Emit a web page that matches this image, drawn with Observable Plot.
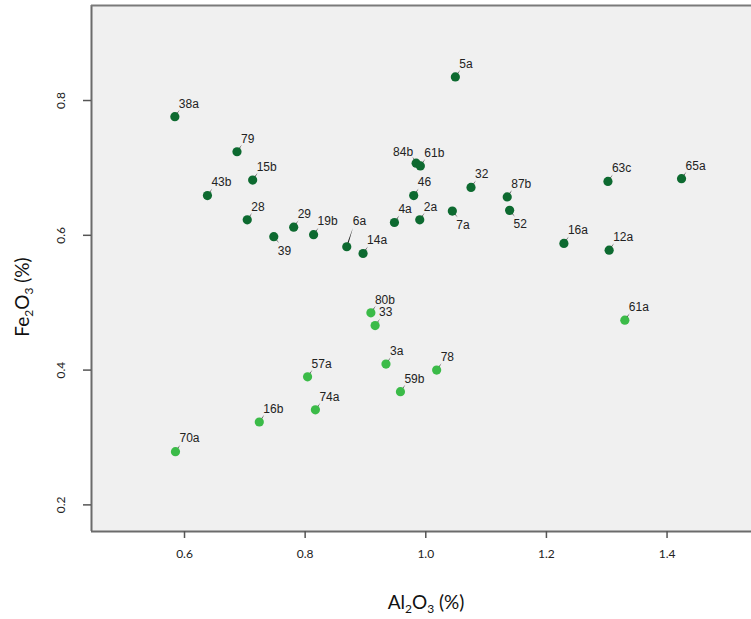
<!DOCTYPE html>
<html><head><meta charset="utf-8">
<script src="https://cdn.jsdelivr.net/npm/d3@7"></script>
<script src="https://cdn.jsdelivr.net/npm/@observablehq/plot@0.6"></script>
<style>body{margin:0;background:#fff}</style>
</head><body><div id="chart"></div>
<script>
const names = ["5a","38a","79","15b","43b","28","39","29","19b","6a","14a","4a","2a","46","84b","61b","32","7a","87b","52","16a","12a","63c","65a",
               "80b","33","3a","78","59b","57a","74a","16b","70a","61a"];
const al2o3 = [1.049,0.584,0.687,0.713,0.638,0.704,0.748,0.781,0.814,0.869,0.896,0.948,0.990,0.980,0.984,0.991,1.075,1.044,1.135,1.139,1.229,1.304,1.302,1.424,
               0.909,0.916,0.934,1.018,0.958,0.804,0.817,0.724,0.585,1.330];
const fe2o3 = [0.835,0.776,0.724,0.682,0.659,0.623,0.598,0.612,0.601,0.583,0.573,0.619,0.623,0.659,0.707,0.703,0.671,0.636,0.657,0.637,0.588,0.578,0.680,0.684,
               0.485,0.466,0.409,0.400,0.368,0.390,0.341,0.323,0.279,0.474];
const group = ["dark","dark","dark","dark","dark","dark","dark","dark","dark","dark","dark","dark","dark","dark","dark","dark","dark","dark","dark","dark","dark","dark","dark","dark",
               "light","light","light","light","light","light","light","light","light","light"];
const xTicks = [0.6, 0.8, 1.0, 1.2, 1.4];
const yTicks = [0.2, 0.4, 0.6, 0.8];
const xDomain = [0.4458, 1.540];
const yDomain = [0.1605, 0.941];

const data = names.map((n, i) => ({name: n, x: al2o3[i], y: fe2o3[i], g: group[i]}));

// label placement (style only)
const belowSet = new Set(["39", "7a", "52"]);
const placement = n => belowSet.has(n) ? "below" : n === "84b" ? "left" : n === "6a" ? "far" : "above";
const styles = {
  above: {dx: 4, dy: -13, anchor: "start", rotate: 35, length: 8.5},
  below: {dx: 4, dy: 14, anchor: "start", rotate: 140, length: 8.5},
  left:  {dx: -3, dy: -11, anchor: "end", rotate: -30, length: 7.5},
  far:   {dx: 6, dy: -26, anchor: "start", rotate: 18, length: 20}
};

const labelFont = "Liberation Sans, Arial, sans-serif";
const tickFont = "Lato, sans-serif";

const marks = [
  Plot.frame({fill: "#f0f0f0", stroke: null}),
  Plot.ruleX([xDomain[0]], {stroke: "#6b6b6b", strokeWidth: 2}),
  Plot.ruleY([yDomain[0]], {stroke: "#6b6b6b", strokeWidth: 2}),
  Plot.ruleY([yDomain[1]], {stroke: "#7a7a7a", strokeWidth: 2}),
  Plot.axisX({ticks: xTicks, tickSize: 7, tickPadding: 11, tickFormat: d3.format(".1f"), fontSize: 12, fontFamily: tickFont, stroke: "#555", strokeWidth: 1.5, fill: "#222", label: null}),
  Plot.axisY({ticks: yTicks, tickSize: 8, tickFormat: () => "", stroke: "#555", strokeWidth: 1.5, label: null}),
  Plot.text(yTicks, {y: d => d, frameAnchor: "left", dx: -30, rotate: -90, text: d3.format(".1f"), fontSize: 12, fontFamily: tickFont, fill: "#222", textAnchor: "middle"})
];

for (const key of Object.keys(styles)) {
  const s = styles[key];
  const sub = data.filter(d => placement(d.name) === key);
  marks.push(Plot.vector(sub, {x: "x", y: "y", rotate: s.rotate, length: s.length, anchor: "start", shape: "spike", r: 0.7, fill: "#1a1a1a", stroke: "none"}));
}
marks.push(Plot.dot(data, {x: "x", y: "y", r: 4.6, fill: "g", stroke: "none"}));
for (const key of Object.keys(styles)) {
  const s = styles[key];
  const sub = data.filter(d => placement(d.name) === key);
  marks.push(Plot.text(sub, {x: "x", y: "y", text: "name", dx: s.dx, dy: s.dy, textAnchor: s.anchor, fontSize: 12, fontFamily: labelFont, fill: "#222"}));
}

const plot = Plot.plot({
  width: 751,
  height: 619,
  marginLeft: 91,
  marginRight: 0,
  marginTop: 5,
  marginBottom: 88,
  style: {background: "#fff"},
  x: {domain: xDomain, axis: null},
  y: {domain: yDomain, axis: null},
  color: {domain: ["dark", "light"], range: ["#0d6a30", "#3bbb48"]},
  length: {type: "identity"},
  marks
});
document.getElementById("chart").appendChild(plot);

// axis titles with subscripts
const svg = d3.select(plot);
function title(x, y, rot, parts) {
  const t = svg.append("text")
    .attr("transform", `translate(${x},${y}) rotate(${rot})`)
    .attr("text-anchor", "middle")
    .attr("font-family", tickFont)
    .attr("font-size", 19)
    .attr("fill", "#111")
    .attr("dy", "0.35em");
  let lowered = false;
  for (const [txt, sub] of parts) {
    const span = t.append("tspan").attr("font-size", sub ? 12 : 19).text(txt);
    if (sub && !lowered) { span.attr("dy", 4); lowered = true; }
    else if (!sub && lowered) { span.attr("dy", -4); lowered = false; }
  }
}
title(426, 602, 0, [["Al", false], ["2", true], ["O", false], ["3", true], [" (%)", false]]);
title(22, 297, -90, [["Fe", false], ["2", true], ["O", false], ["3", true], [" (%)", false]]);
</script>
</body></html>
